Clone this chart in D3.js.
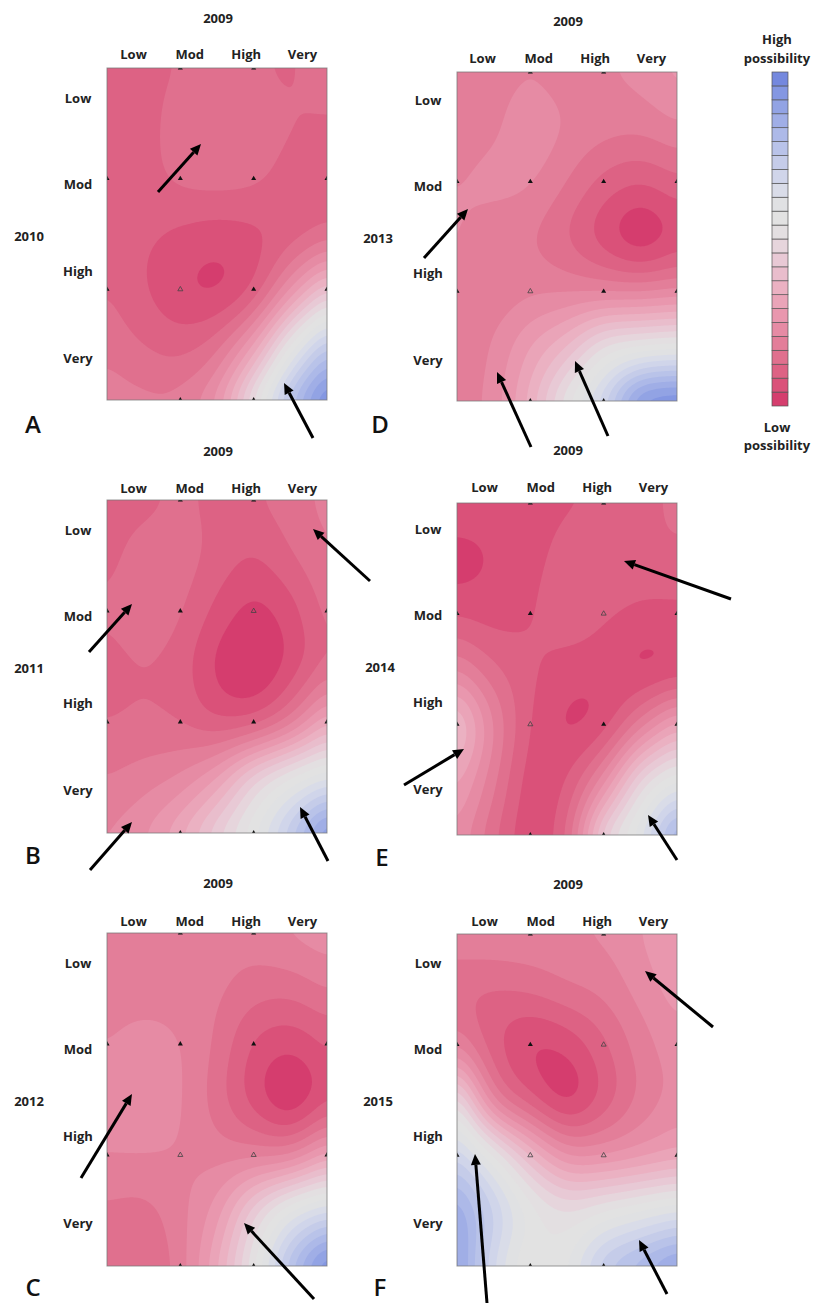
<!DOCTYPE html>
<html>
<head>
<meta charset="utf-8">
<title>possibility surfaces 2009 vs 2010-2015</title>
<script src="https://d3js.org/d3.v7.min.js"></script>
<style>
    html,body{margin:0;padding:0;background:#fff;}
    svg{display:block;}
    text{font-family:"Open Sans",sans-serif;font-weight:700;fill:#222;font-size:13px;}
    .letter{font-size:24px;font-weight:600;fill:#111;}
</style>
</head>
<body>
<div id="chart"></div>
<script>
// the four classes on both axes
var levels = ["Low","Mod","High","Very"]
// legend bands, bottom (low possibility) to top (high possibility)
var bandColors = ["#d53e6e","#da5179","#dd6284","#e0708e","#e37e99","#e68ba4","#e997ae","#eaa4b8","#ebb1c2","#e9bdcc","#e8c9d5","#e6d5dc","#e3dfe1","#e2e2e2","#e0e1e3","#d9dce8","#d0d5ea","#c5cce9","#b9c3e9","#adb9e8","#a0aee6","#92a3e4","#8497e2","#7488de"]

// surface values in legend-band units, 7 rows x 7 columns, top row first
var surfaceA = [
    [2.5,2.5,3.1,3.4,3.2,2.85,3.9],
    [2.5,2.6,3.5,3.6,3.6,3.05,2.85],
    [2.4,2.6,3.2,3.4,3.2,2.6,2.5],
    [2.2,2.2,1.8,1.5,1.8,2.5,3.5],
    [3.0,2.1,1.2,0.88,2.2,6.0,10],
    [3.7,3.0,2.6,3.6,7,13,18],
    [4.6,4.3,4.5,6.5,12.5,19,24]
]
var surfaceB = [
    [2.4,2.6,3.2,2.7,2.9,3.6,4.3],
    [2.6,3.5,3.5,2.6,2.0,2.9,4.0],
    [3.1,3.7,3.1,1.7,0.7,1.6,3.4],
    [2.6,3.0,2.5,0.8,0.0,1.4,3.5],
    [3.0,3.2,3.0,2.2,2.5,4.5,8],
    [4.0,4.5,5.2,7,10.5,13,15],
    [5.0,6,8,11,14,18,23]
]
var surfaceC = [
    [4.3,4.3,4.3,4.4,4.6,5.2,5.7],
    [4.3,4.4,4.4,4.2,3.5,3.4,4.1],
    [5.0,5.5,5.0,3.8,1.9,1.3,2.2],
    [5.3,5.6,5.1,3.5,1.6,0.15,2.0],
    [5.0,5.0,4.9,4.6,4.7,5.0,7.5],
    [3.8,3.7,4.7,6.5,10.5,14,16],
    [3.4,3.0,4.5,8,13,19,24]
]
var surfaceD = [
    [4.2,4.5,4.9,4.5,4.9,5.4,6.4],
    [4.2,4.8,5.6,4.9,4.4,4.3,4.9],
    [4.95,5.3,5.1,4.0,2.7,2.1,2.8],
    [5.1,4.4,4.1,3.0,1.5,0.25,1.4],
    [4.8,4.4,4.8,4.9,4.9,4.9,5.3],
    [4.2,5.1,7,9,12,13,13.5],
    [4.3,5.5,8.5,13,17,23,24]
]
var surfaceE = [
    [2.0,1.5,1.4,1.85,2.1,2.4,3.5],
    [0.55,1.1,1.6,2.5,2.9,2.8,2.7],
    [1.9,1.6,1.9,2.7,2.2,1.7,1.8],
    [5.0,3.2,2.2,1.5,1.3,0.92,1.3],
    [9.5,5.0,2.0,0.88,1.5,4.5,7.5],
    [7.5,4.3,1.5,2.0,5.5,11,14],
    [5.8,3.2,1.3,3.2,11,15,21]
]
var surfaceF = [
    [5,5,5,5,5.2,6,7.2],
    [3.2,3.0,3.2,3.8,4.3,5.4,6.5],
    [5,2.4,1.0,1.3,2.8,4.5,5.7],
    [12,5,2.4,0.7,2.4,4.3,5.5],
    [17,13,9,6,6,6.7,7.5],
    [21,17,13.5,12,13,14,15],
    [22,16,13,14,18,20,22]
]

// triangles that look hollow in the picture, [column,row]
var hollowA = [[1,2]]
var hollowB = [[2,1]]
var hollowC = [[1,2],[2,2]]
var hollowD = [[1,2]]
var hollowE = [[2,1],[1,2]]
var hollowF = [[2,1],[1,2],[2,2]]

var panelNames = ["A","B","C","D","E","F"]
var panelYears = ["2010","2011","2012","2013","2014","2015"]
var surfaces = [surfaceA,surfaceB,surfaceC,surfaceD,surfaceE,surfaceF]
var hollows = [hollowA,hollowB,hollowC,hollowD,hollowE,hollowF]

// layout of the figure, none of this is data
var panelW = 220
var layout = [
    {x:107,y:68,h:332,topY:18,yearX:29,yearY:236,lx:33,ly:425,pad:9,labX:0,labY:30},
    {x:107,y:500,h:333,topY:451,yearX:29,yearY:668,lx:33,ly:856,pad:7,labX:0,labY:30},
    {x:107,y:933,h:333,topY:883,yearX:29,yearY:1101,lx:33,ly:1288,pad:7,labX:0,labY:30},
    {x:457,y:72,h:329,topY:21,yearX:378,yearY:238,lx:380,ly:425,pad:9,labX:-1,labY:28},
    {x:457,y:503,h:332,topY:450,yearX:380,yearY:667,lx:382,ly:858,pad:11,labX:1,labY:26},
    {x:457,y:934,h:332,topY:884,yearX:378,yearY:1101,lx:380,ly:1288,pad:8,labX:1,labY:29}
]
var arrowsByPanel = [
    [[158,192,201,144],[313,438,284,383]],
    [[89,652,132,604],[370,581,313,529],[90,870,132,822],[328,861,300,807]],
    [[81,1178,132,1094],[314,1299,244,1223]],
    [[424,258,468,209],[531,447,497,372],[608,436,575,361]],
    [[731,599,624,561],[404,785,464,749],[677,860,648,815]],
    [[713,1027,645,971],[487,1303,475,1154],[667,1294,639,1240]]
]

var svg = d3.select("#chart").append("svg").attr("width",813).attr("height",1303)
var defs = svg.append("defs")
defs.append("filter").attr("id","soft").append("feGaussianBlur").attr("stdDeviation",0.5)

var bandColor = d3.scaleThreshold().domain(d3.range(1,bandColors.length)).range(bandColors)

// catmull-rom through the read values so the contours come out round like the original
function cubic(a,b,c,d,t){
    return 0.5*((2*b)+(-a+c)*t+(2*a-5*b+4*c-d)*t*t+(-a+3*b-3*c+d)*t*t*t)
}
function sampleSurface(grid,nx,ny){
    var rows = grid.length, cols = grid[0].length
    function at(r,c){
        // linear ghost nodes past the edge
        var r2 = Math.max(0,Math.min(rows-1,r)), c2 = Math.max(0,Math.min(cols-1,c))
        var v = grid[r2][c2]
        if(r!=r2){ v += (r<0 ? grid[0][c2]-grid[1][c2] : grid[rows-1][c2]-grid[rows-2][c2]) }
        if(c!=c2){ v += (c<0 ? grid[r2][0]-grid[r2][1] : grid[r2][cols-1]-grid[r2][cols-2]) }
        return v
    }
    var out = new Array(nx*ny)
    for(var j=0;j<ny;j++){
        var fy = j/(ny-1)*(rows-1), r0 = Math.min(rows-2,Math.floor(fy)), ty = fy-r0
        for(var i=0;i<nx;i++){
            var fx = i/(nx-1)*(cols-1), c0 = Math.min(cols-2,Math.floor(fx)), tx = fx-c0
            var col = []
            for(var k=-1;k<=2;k++){
                col.push(cubic(at(r0+k,c0-1),at(r0+k,c0),at(r0+k,c0+1),at(r0+k,c0+2),tx))
            }
            out[j*nx+i] = cubic(col[0],col[1],col[2],col[3],ty)
        }
    }
    // takes the corners off the patch seams
    d3.blur2({data:out,width:nx,height:ny},9,13)
    return out
}

function drawPanel(i){
    var box = layout[i]
    var g = svg.append("g").attr("transform","translate("+box.x+","+box.y+")")
    defs.append("clipPath").attr("id","clip"+i).append("rect").attr("width",panelW).attr("height",box.h)

    var nx = 221, ny = box.h+1
    var values = sampleSurface(surfaces[i],nx,ny)
    var contours = d3.contours().size([nx,ny]).thresholds(d3.range(1,bandColors.length))(values)
    var sx = d3.scaleLinear().domain([0.5,nx-0.5]).range([0,panelW])
    var sy = d3.scaleLinear().domain([0.5,ny-0.5]).range([0,box.h])
    var path = d3.geoPath(d3.geoTransform({point:function(x,y){this.stream.point(sx(x),sy(y))}}))

    var surface = g.append("g").attr("clip-path","url(#clip"+i+")").append("g").attr("filter","url(#soft)")
    surface.append("rect").attr("x",-3).attr("y",-3).attr("width",panelW+6).attr("height",box.h+6).attr("fill",bandColors[0])
    surface.selectAll("path").data(contours).enter().append("path")
        .attr("d",path)
        .attr("fill",function(d){return bandColor(d.value)})

    // small triangles at the class breaks
    var nodeX = d3.scaleLinear().domain([0,3]).range([0,panelW])
    var nodeY = d3.scaleLinear().domain([0,3]).range([0,box.h])
    var nodes = []
    for(var r=0;r<4;r++){
        for(var c=0;c<4;c++){
            if((r==0||r==3) && (c==0||c==3)) continue
            nodes.push([c,r])
        }
    }
    var isHollow = function(d){return hollows[i].some(function(h){return h[0]==d[0]&&h[1]==d[1]})}
    g.append("g").attr("clip-path","url(#clip"+i+")")
        .selectAll("path").data(nodes).enter().append("path")
        .attr("d",d3.symbol(d3.symbolTriangle).size(11))
        .attr("transform",function(d){return "translate("+nodeX(d[0])+","+nodeY(d[1])+")"})
        .attr("fill",function(d){return isHollow(d)?"none":"#111"})
        .attr("stroke",function(d){return isHollow(d)?"#444":"none"})
        .attr("stroke-width",0.8)

    g.append("rect").attr("width",panelW).attr("height",box.h)
        .attr("fill","none").attr("stroke","#777").attr("stroke-opacity",0.75).attr("stroke-width",1)

    // class labels
    var topAxis = d3.axisTop(d3.scalePoint().domain(levels).range([26+box.labX,195+box.labX])).tickSize(0).tickPadding(box.pad)
    var sideAxis = d3.axisLeft(d3.scalePoint().domain(levels).range([box.labY,box.labY+260])).tickSize(0)
    var ta = g.append("g").call(topAxis)
    var sa = g.append("g").attr("transform","translate(-29,0)").call(sideAxis)
    ta.select(".domain").remove()
    sa.select(".domain").remove()
    sa.selectAll("text").attr("x",0).attr("text-anchor","middle")
    ta.attr("font-size",null).attr("font-family",null)
    sa.attr("font-size",null).attr("font-family",null)

    svg.append("text").attr("x",box.x+111).attr("y",box.topY).attr("dy","0.35em").attr("text-anchor","middle").text("2009")
    svg.append("text").attr("x",box.yearX).attr("y",box.yearY).attr("dy","0.35em").attr("text-anchor","middle").text(panelYears[i])
    svg.append("text").attr("class","letter").attr("x",box.lx).attr("y",box.ly).attr("dy","0.35em").attr("text-anchor","middle").text(panelNames[i])

    arrowsByPanel[i].forEach(drawArrow)
}

function drawArrow(a){
    var dx = a[2]-a[0], dy = a[3]-a[1], len = Math.sqrt(dx*dx+dy*dy)
    var ux = dx/len, uy = dy/len, head = 11, half = 5
    var bx = a[2]-ux*head, by = a[3]-uy*head
    svg.append("line").attr("x1",a[0]).attr("y1",a[1]).attr("x2",bx).attr("y2",by)
        .attr("stroke","#000").attr("stroke-width",3)
    svg.append("path")
        .attr("d","M"+a[2]+","+a[3]+"L"+(bx-uy*half)+","+(by+ux*half)+"L"+(bx+uy*half)+","+(by-ux*half)+"Z")
        .attr("fill","#000")
}

d3.range(panelNames.length).forEach(drawPanel)

// legend
var bandIndex = d3.range(bandColors.length)
var legendY = d3.scaleBand().domain(bandIndex).range([406,72])
var legend = svg.append("g")
legend.selectAll("rect").data(bandIndex).enter().append("rect")
    .attr("x",772).attr("width",16)
    .attr("y",function(d){return legendY(d)})
    .attr("height",legendY.bandwidth())
    .attr("fill",function(d){return bandColors[d]})
    .attr("stroke","#555").attr("stroke-width",0.7)
var legendText = [["High",777,39],["possibility",777,58],["Low",777,427],["possibility",777,445]]
legend.selectAll("text").data(legendText).enter().append("text")
    .attr("x",function(d){return d[1]}).attr("y",function(d){return d[2]})
    .attr("dy","0.35em").attr("text-anchor","middle")
    .text(function(d){return d[0]})
</script>
</body>
</html>
